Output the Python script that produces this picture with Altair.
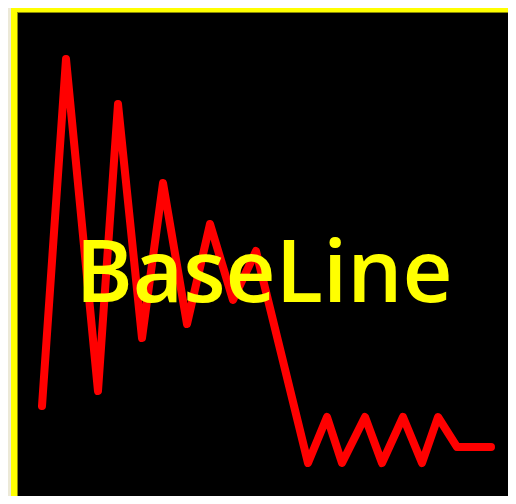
import altair as alt
import pandas as pd

# Line vertices (x position, value)
xs = [42, 66, 98, 118, 142, 163, 187, 210, 233, 256, 308, 327, 342, 365, 382, 403, 422, 438, 457, 491]
ys = [98, 445, 113, 400, 166, 321, 180, 280, 204, 253, 41, 87, 41, 87, 41, 87, 41, 87, 57, 57]

label_text = ["BaseLine"]
label_x = [264]
label_y = [202]

line_df = pd.DataFrame({"x": xs, "y": ys})
text_df = pd.DataFrame({"x": label_x, "y": label_y, "label": label_text})

W, H = 497, 488
xscale = alt.Scale(domain=[11, 508], nice=False, zero=False)
yscale = alt.Scale(domain=[8, 496], nice=False, zero=False)

YELLOW = "#FFFF00"
OLIVE = "#8a8a00"

left_border = alt.Chart(line_df).mark_rule(color=YELLOW, strokeWidth=6).encode(
    x=alt.value(3), y=alt.value(0), y2=alt.value(H)
)
left_inner = alt.Chart(line_df).mark_rule(color=OLIVE, strokeWidth=1).encode(
    x=alt.value(6.5), y=alt.value(4), y2=alt.value(H)
)
top_border = alt.Chart(line_df).mark_rule(color=YELLOW, strokeWidth=4).encode(
    y=alt.value(2), x=alt.value(0), x2=alt.value(W)
)
top_inner = alt.Chart(line_df).mark_rule(color=OLIVE, strokeWidth=1).encode(
    y=alt.value(4.5), x=alt.value(6), x2=alt.value(W)
)

line = alt.Chart(line_df).mark_line(
    color="#FF0000", strokeWidth=8, strokeJoin="round", strokeCap="round"
).encode(
    x=alt.X("x:Q", scale=xscale, axis=None),
    y=alt.Y("y:Q", scale=yscale, axis=None),
)

text = alt.Chart(text_df).mark_text(
    color=YELLOW, font="Open Sans", fontSize=87, fontWeight=600,
    align="center", baseline="alphabetic"
).encode(
    x=alt.X("x:Q", scale=xscale, axis=None),
    y=alt.Y("y:Q", scale=yscale, axis=None),
    text="label:N",
)

chart = alt.layer(line, text, left_border, left_inner, top_border, top_inner).properties(
    width=W, height=H,
    padding={"left": 3, "top": 0, "right": 0, "bottom": 0},
    autosize=alt.AutoSizeParams(type="none"),
    background="#ECE9D8",
).configure_view(fill="#000000", strokeWidth=0)

chart.save("out.html", embed_options={"renderer": "svg", "actions": False})
